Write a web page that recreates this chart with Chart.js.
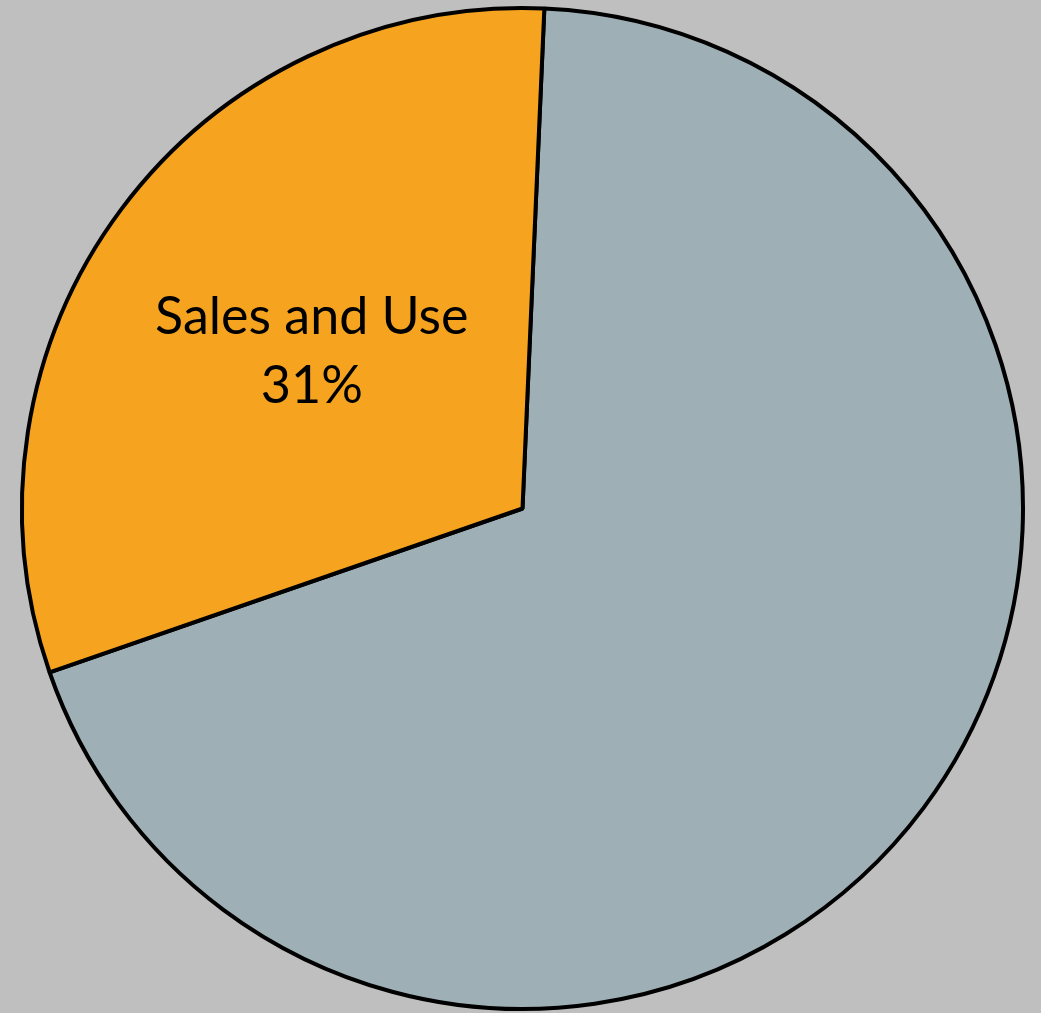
<!DOCTYPE html>
<html>
<head>
<meta charset="utf-8">
<script src="https://cdn.jsdelivr.net/npm/chart.js@4"></script>
<style>
  html, body { margin: 0; padding: 0; background: #bfbfbf; }
  #wrap { width: 1041px; height: 1013px; }
</style>
</head>
<body>
<div id="wrap"><canvas id="revenuePie"></canvas></div>
<script>
const categories = ["Other", "Sales and Use"];
const shares = [69, 31];
const sliceColors = ["#9eafb5", "#f6a41f"];
const labeledSlices = ["Sales and Use"];

// writes "name / pct%" inside the slices listed in labeledSlices
const sliceLabels = {
  id: "sliceLabels",
  afterDatasetsDraw(chart) {
    const ctx = chart.ctx;
    const meta = chart.getDatasetMeta(0);
    const total = shares.reduce((a, b) => a + b, 0);
    ctx.save();
    ctx.fillStyle = "#000";
    ctx.textAlign = "center";
    ctx.textBaseline = "alphabetic";
    ctx.font = "52px Lato";
    meta.data.forEach((arc, i) => {
      if (!labeledSlices.includes(categories[i])) return;
      const p = arc.getProps(["x", "y", "startAngle", "endAngle", "outerRadius"], true);
      const mid = (p.startAngle + p.endAngle) / 2;
      const r = p.outerRadius * 0.525;
      const cx = p.x + Math.cos(mid) * r;
      const cy = p.y + Math.sin(mid) * r;
      const pct = Math.round((shares[i] / total) * 100) + "%";
      ctx.fillText(categories[i], cx, cy - 17);
      ctx.fillText(pct, cx, cy + 52);
    });
    ctx.restore();
  }
};

new Chart(document.getElementById("revenuePie").getContext("2d"), {
  type: "pie",
  data: {
    labels: categories,
    datasets: [{
      data: shares,
      backgroundColor: sliceColors,
      borderColor: "#000",
      borderWidth: 4,
      hoverOffset: 0
    }]
  },
  options: {
    responsive: true,
    maintainAspectRatio: false,
    animation: false,
    rotation: 2.5,
    layout: { padding: { left: 20, right: 16, top: 6, bottom: 2 } },
    plugins: {
      legend: { display: false },
      tooltip: { enabled: false }
    }
  },
  plugins: [sliceLabels]
});
</script>
</body>
</html>
